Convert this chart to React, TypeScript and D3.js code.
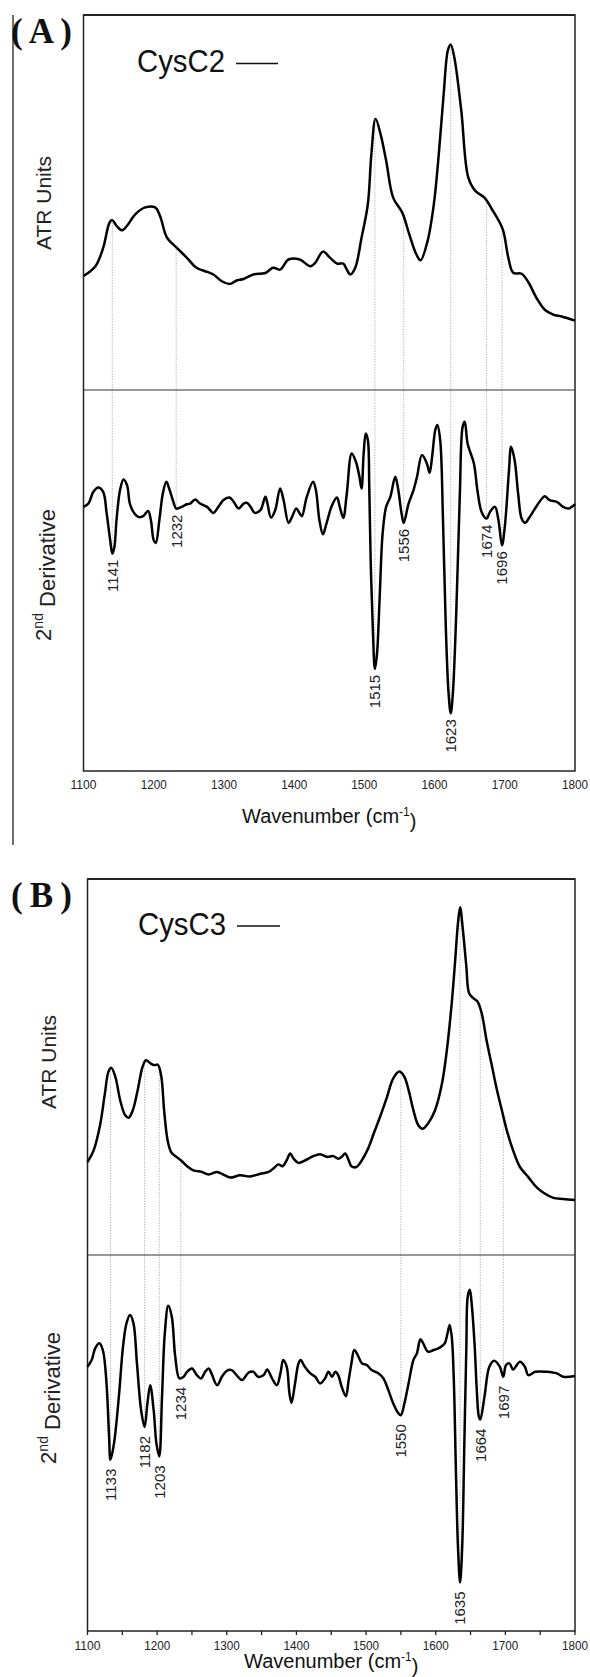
import React from "react";
import * as d3 from "d3";

type Pt = [number, number];

// ---------- shared axis data ----------
const xDomain: [number, number] = [1100, 1800];
const xTickLabels = [1100, 1200, 1300, 1400, 1500, 1600, 1700, 1800];
const xTickMarksB = [1100, 1150, 1200, 1250, 1300, 1350, 1400, 1450, 1500, 1550, 1600, 1650, 1700, 1750, 1800];

// ---------- (A) CysC2 ----------
const cysC2Atr: Pt[] = [
  [1100, 0.304], [1117, 0.33], [1128, 0.379], [1137, 0.446], [1141, 0.453], [1147, 0.438], [1155, 0.426],
  [1162, 0.438], [1174, 0.469], [1188, 0.487], [1202, 0.487], [1209, 0.464], [1219, 0.406], [1233, 0.379],
  [1247, 0.353], [1261, 0.326], [1276, 0.315], [1285, 0.308], [1297, 0.29], [1309, 0.283], [1318, 0.292],
  [1328, 0.296], [1342, 0.308], [1359, 0.312], [1370, 0.326], [1380, 0.321], [1392, 0.348], [1408, 0.348],
  [1423, 0.33], [1430, 0.339], [1441, 0.369], [1451, 0.353], [1461, 0.337], [1470, 0.337], [1475, 0.321],
  [1480, 0.308], [1487, 0.326], [1496, 0.406], [1505, 0.496], [1510, 0.629], [1516, 0.723], [1523, 0.683],
  [1531, 0.612], [1541, 0.513], [1554, 0.473], [1564, 0.415], [1574, 0.362], [1580, 0.346], [1590, 0.397],
  [1599, 0.496], [1606, 0.629], [1613, 0.79], [1619, 0.906], [1623, 0.921], [1628, 0.888], [1638, 0.746],
  [1648, 0.567], [1658, 0.531], [1671, 0.513], [1683, 0.478], [1697, 0.429], [1705, 0.353], [1712, 0.3125],
  [1724, 0.31], [1734, 0.286], [1745, 0.246], [1757, 0.214], [1769, 0.201], [1781, 0.196], [1800, 0.185],
];

const cysC2Deriv: Pt[] = [
  [1100, 0], [1107, 0.1], [1114, 0.45], [1121, 0.58], [1128, 0.45], [1133, -0.2], [1138, -1.0], [1141, -1.4],
  [1144, -1.2], [1147, -0.4], [1152, 0.5], [1157, 0.82], [1162, 0.65], [1166, 0.1], [1171, -0.15], [1178, -0.3],
  [1185, -0.28], [1192, -0.12], [1196, -0.4], [1200, -1.0], [1203, -1.08], [1208, -0.4], [1213, 0.4],
  [1218, 0.75], [1222, 0.55], [1228, 0.15], [1232, -0.05], [1240, 0.0], [1247, 0.08], [1252, 0.1],
  [1259, 0.22], [1266, 0.1], [1276, 0.0], [1285, -0.18], [1292, 0.0], [1299, 0.2], [1308, 0.28], [1314, 0.15],
  [1321, -0.05], [1328, 0.1], [1333, 0.12], [1338, 0.0], [1344, -0.18], [1352, -0.1], [1359, 0.3],
  [1362, 0.1], [1367, -0.32], [1373, -0.1], [1380, 0.55], [1385, 0.2], [1392, -0.48], [1397, -0.3],
  [1403, -0.05], [1408, -0.2], [1411, -0.28], [1418, 0.3], [1427, 0.75], [1431, 0.5], [1436, -0.4],
  [1441, -0.82], [1446, -0.5], [1454, 0.05], [1461, 0.28], [1465, 0.0], [1470, -0.33], [1475, 0.4],
  [1482, 1.6], [1488, 1.35], [1493, 0.9], [1496, 0.55], [1499, 1.6], [1502, 2.2], [1505, 2.0], [1507, 0.6],
  [1509, -1.6], [1512, -3.6], [1515, -4.85], [1518, -4.4], [1522, -2.6], [1526, -0.8], [1531, 0.0],
  [1537, 0.3], [1544, 0.9], [1548, 0.55], [1553, -0.2], [1556, -0.48], [1563, 0.1], [1570, 0.5], [1575, 0.9],
  [1582, 1.55], [1589, 1.3], [1593, 1.02], [1597, 1.6], [1601, 2.3], [1604, 2.45], [1608, 2.0], [1612, -0.4],
  [1616, -3.6], [1620, -5.6], [1623, -6.18], [1626, -5.6], [1631, -3.1], [1636, 0.4], [1640, 2.4],
  [1643, 2.55], [1647, 1.9], [1656, 1.3], [1661, 0.5], [1667, -0.15], [1674, -0.35], [1679, -0.15],
  [1686, 0.0], [1691, -0.4], [1696, -1.15], [1700, -0.6], [1706, 1.1], [1709, 1.8], [1714, 1.4], [1719, 0.4],
  [1724, -0.35], [1729, -0.48], [1734, -0.35], [1743, -0.05], [1753, 0.25], [1757, 0.32], [1764, 0.2],
  [1774, 0.15], [1783, 0.0], [1791, -0.05], [1800, 0.08],
];

const cysC2Peaks = [1141, 1232, 1515, 1556, 1623, 1674, 1696];

// ---------- (B) CysC3 ----------
const cysC3Atr: Pt[] = [
  [1100, 0.247], [1109, 0.279], [1118, 0.345], [1125, 0.43], [1130, 0.487], [1134, 0.498], [1140, 0.474],
  [1147, 0.411], [1154, 0.372], [1159, 0.365], [1165, 0.385], [1172, 0.438], [1179, 0.5], [1184, 0.518],
  [1191, 0.509], [1196, 0.505], [1201, 0.506], [1206, 0.474], [1210, 0.385], [1215, 0.305], [1220, 0.274],
  [1227, 0.262], [1234, 0.252], [1243, 0.236], [1252, 0.225], [1264, 0.221], [1274, 0.214], [1286, 0.221],
  [1295, 0.214], [1305, 0.206], [1319, 0.212], [1333, 0.209], [1348, 0.216], [1360, 0.221], [1367, 0.23],
  [1374, 0.241], [1380, 0.236], [1386, 0.252], [1391, 0.27], [1396, 0.256], [1403, 0.245], [1415, 0.254],
  [1424, 0.263], [1434, 0.268], [1444, 0.261], [1453, 0.263], [1460, 0.256], [1465, 0.261], [1470, 0.27],
  [1475, 0.252], [1479, 0.236], [1486, 0.234], [1494, 0.252], [1503, 0.283], [1511, 0.323], [1520, 0.367],
  [1530, 0.42], [1539, 0.47], [1548, 0.488], [1555, 0.474], [1561, 0.439], [1568, 0.385], [1575, 0.345],
  [1581, 0.336], [1589, 0.35], [1599, 0.385], [1609, 0.456], [1616, 0.545], [1623, 0.67], [1628, 0.785],
  [1632, 0.883], [1635, 0.925], [1639, 0.865], [1644, 0.767], [1648, 0.696], [1654, 0.683], [1660, 0.674],
  [1666, 0.643], [1673, 0.571], [1680, 0.509], [1688, 0.438], [1695, 0.385], [1702, 0.332], [1711, 0.279],
  [1721, 0.234], [1733, 0.207], [1745, 0.18], [1757, 0.163], [1769, 0.152], [1783, 0.149], [1800, 0.146],
];

const cysC3Deriv: Pt[] = [
  [1100, 0.3], [1106, 0.5], [1111, 0.85], [1117, 1.0], [1122, 0.8], [1127, -0.1], [1131, -1.8], [1133, -2.48],
  [1138, -2.0], [1145, -0.6], [1151, 0.9], [1156, 1.6], [1161, 1.85], [1166, 1.6], [1171, 0.4], [1177, -1.0],
  [1182, -1.5], [1186, -0.8], [1190, -0.25], [1195, -1.0], [1199, -2.0], [1203, -2.38], [1207, -0.6],
  [1211, 1.3], [1216, 2.12], [1221, 1.8], [1226, 0.6], [1232, -0.05], [1238, 0.0], [1243, 0.15], [1250, 0.25],
  [1257, 0.05], [1263, -0.05], [1269, 0.15], [1274, 0.25], [1278, 0.1], [1286, -0.25], [1293, 0.0],
  [1300, 0.18], [1307, 0.2], [1314, 0.05], [1322, -0.1], [1331, 0.12], [1338, 0.15], [1345, 0.0], [1353, 0.05],
  [1358, 0.22], [1365, -0.05], [1372, -0.25], [1377, 0.1], [1381, 0.5], [1386, 0.3], [1390, -0.5],
  [1393, -0.78], [1398, -0.2], [1403, 0.4], [1406, 0.5], [1412, 0.3], [1420, 0.1], [1427, 0.0], [1434, -0.2],
  [1441, -0.05], [1446, 0.15], [1451, 0.0], [1456, 0.15], [1460, 0.05], [1465, -0.3], [1471, -0.58],
  [1475, -0.1], [1479, 0.4], [1483, 0.8], [1488, 0.65], [1494, 0.4], [1501, 0.35], [1508, 0.2], [1518, 0.1],
  [1525, -0.05], [1532, -0.4], [1539, -0.8], [1546, -1.08], [1550, -1.15], [1555, -0.8], [1561, -0.2],
  [1568, 0.5], [1573, 0.7], [1578, 1.12], [1582, 1.0], [1589, 0.75], [1597, 0.8], [1604, 0.85], [1609, 0.92],
  [1613, 1.0], [1617, 1.3], [1620, 1.55], [1623, 1.2], [1626, -0.1], [1629, -2.8], [1632, -5.1], [1635, -6.15],
  [1638, -5.1], [1641, -2.1], [1644, 0.9], [1646, 2.4], [1649, 2.6], [1652, 2.1], [1656, 0.9], [1659, -0.4],
  [1662, -1.2], [1664, -1.28], [1670, -0.6], [1677, 0.3], [1684, 0.48], [1692, 0.3], [1697, 0.0], [1701, 0.35],
  [1706, 0.4], [1711, 0.22], [1721, 0.45], [1728, 0.3], [1733, 0.05], [1743, 0.15], [1759, 0.15], [1774, 0.1],
  [1783, 0.0], [1800, 0.02],
];

const cysC3Peaks = [1133, 1182, 1203, 1234, 1550, 1635, 1664, 1697];

// ---------- layout ----------
type PanelCfg = {
  tag: string;
  name: string;
  atr: Pt[];
  deriv: Pt[];
  peaks: number[];
  left: number; right: number; top: number; mid: number; bottom: number;
  atrDomain: [number, number];
  derivDomain: [number, number];
  tagY: number;
  legendX: number; legendY: number; legendLineX: [number, number]; legendLineY: number;
  yLabelX: number; atrLabelY: number; derivLabelY: number;
  tickLabelY: number; titleY: number;
  labelGap: number;
  tickMarks: number[];
};

const FONT = "'Liberation Sans', Arial, Helvetica, sans-serif";

const panels: PanelCfg[] = [
  {
    tag: "(A)", name: "CysC2", atr: cysC2Atr, deriv: cysC2Deriv, peaks: cysC2Peaks,
    left: 83.5, right: 575, top: 15, mid: 390, bottom: 771,
    atrDomain: [0, 1], derivDomain: [-7.91, 3.5],
    tagY: 43,
    legendX: 137, legendY: 72, legendLineX: [236, 278], legendLineY: 63.5,
    yLabelX: 43, atrLabelY: 203, derivLabelY: 575,
    tickLabelY: 789, titleY: 823, labelGap: 6, tickMarks: [],
  },
  {
    tag: "(B)", name: "CysC3", atr: cysC3Atr, deriv: cysC3Deriv, peaks: cysC3Peaks,
    left: 87.5, right: 575, top: 879, mid: 1255, bottom: 1631,
    atrDomain: [0, 1], derivDomain: [-7.6, 3.64],
    tagY: 907,
    legendX: 138, legendY: 935, legendLineX: [237, 280], legendLineY: 926,
    yLabelX: 48, atrLabelY: 1062, derivLabelY: 1398,
    tickLabelY: 1650, titleY: 1668, labelGap: 9, tickMarks: xTickMarksB,
  },
];

function interp(data: Pt[], wn: number): number {
  const i = d3.bisector((d: Pt) => d[0]).left(data, wn);
  if (i <= 0) return data[0][1];
  if (i >= data.length) return data[data.length - 1][1];
  const [x0, y0] = data[i - 1];
  const [x1, y1] = data[i];
  return y0 + ((y1 - y0) * (wn - x0)) / (x1 - x0);
}

function Panel({ c }: { c: PanelCfg }) {
  const x = d3.scaleLinear().domain(xDomain).range([c.left, c.right]);
  const yA = d3.scaleLinear().domain(c.atrDomain).range([c.mid, c.top]);
  const yD = d3.scaleLinear().domain(c.derivDomain).range([c.bottom, c.mid]);
  const curve = d3.curveCatmullRom.alpha(0.5);
  const lineA = d3.line<Pt>().x((d) => x(d[0])).y((d) => yA(d[1])).curve(curve);
  const lineD = d3.line<Pt>().x((d) => x(d[0])).y((d) => yD(d[1])).curve(curve);
  const cx = (c.left + c.right) / 2;

  return (
    <g>
      {/* panel tag */}
      <text x={11} y={c.tagY} fontFamily="'Liberation Serif', 'Times New Roman', serif" fontWeight="bold" fontSize={35}
        textLength={61} lengthAdjust="spacing" fill="#111">
        {c.tag}
      </text>

      {/* dotted guide lines */}
      {c.peaks.map((p) => (
        <line
          key={"g" + p}
          x1={x(p)} x2={x(p)}
          y1={yA(interp(c.atr, p))}
          y2={yD(interp(c.deriv, p))}
          stroke="#9a9a9a" strokeWidth={0.8} strokeDasharray="1.2,1.4"
        />
      ))}

      {/* frame */}
      <rect x={c.left} y={c.top} width={c.right - c.left} height={c.bottom - c.top} fill="none" stroke="#222" strokeWidth={1.5} />
      <line x1={c.left} x2={c.right} y1={c.top} y2={c.top} stroke="#222" strokeWidth={2.2} />
      <line x1={c.left} x2={c.right} y1={c.mid} y2={c.mid} stroke="#333" strokeWidth={1.1} />

      {/* curves */}
      <path d={lineA(c.atr) || ""} fill="none" stroke="#000" strokeWidth={2.5} strokeLinejoin="round" />
      <path d={lineD(c.deriv) || ""} fill="none" stroke="#000" strokeWidth={2.5} strokeLinejoin="round" />

      {/* peak labels */}
      {c.peaks.map((p) => (
        <text
          key={"l" + p}
          transform={`translate(${x(p)},${yD(interp(c.deriv, p)) + c.labelGap}) rotate(-90)`}
          textAnchor="end" dy="0.36em" fontFamily={FONT} fontSize={15} fill="#222"
        >
          {p}
        </text>
      ))}

      {/* legend */}
      <text x={c.legendX} y={c.legendY} fontFamily={FONT} fontSize={32} textLength={88} lengthAdjust="spacingAndGlyphs" fill="#111">
        {c.name}
      </text>
      <line x1={c.legendLineX[0]} x2={c.legendLineX[1]} y1={c.legendLineY} y2={c.legendLineY} stroke="#111" strokeWidth={1.6} />

      {/* y labels */}
      <text transform={`translate(${c.yLabelX},${c.atrLabelY}) rotate(-90)`} textAnchor="middle" dy="0.36em" fontFamily={FONT} fontSize={21} fill="#222">
        ATR Units
      </text>
      <text transform={`translate(${c.yLabelX},${c.derivLabelY}) rotate(-90)`} textAnchor="middle" dy="0.36em" fontFamily={FONT} fontSize={22} fill="#222">
        2<tspan dy="-0.55em" fontSize={14}>nd</tspan><tspan dy="0.55em"> Derivative</tspan>
      </text>

      {/* x ticks */}
      {c.tickMarks.map((t) => (
        <line key={"t" + t} x1={x(t)} x2={x(t)} y1={c.bottom} y2={c.bottom + 4} stroke="#222" strokeWidth={1.3} />
      ))}
      {xTickLabels.map((t) => (
        <text key={"tl" + t} x={x(t)} y={c.tickLabelY} textAnchor="middle" fontFamily={FONT} fontSize={13} textLength={26} lengthAdjust="spacingAndGlyphs" fill="#222">
          {t}
        </text>
      ))}

      {/* x title */}
      <text x={cx} y={c.titleY} textAnchor="middle" fontFamily={FONT} fontSize={20} fill="#111">
        Wavenumber (cm<tspan dy="-0.6em" fontSize={12}>-1</tspan><tspan dy="0.6em">)</tspan>
      </text>
    </g>
  );
}

export default function App() {
  return (
    <svg width={590} height={1677} viewBox="0 0 590 1677" style={{ display: "block", position: "absolute", left: 0, top: 0, background: "#fff" }}>
      <rect x={0} y={0} width={590} height={1677} fill="#fff" />
      <line x1={13} x2={13} y1={15} y2={845} stroke="#222" strokeWidth={1.3} />
      {panels.map((p) => (
        <Panel key={p.tag} c={p} />
      ))}
    </svg>
  );
}
